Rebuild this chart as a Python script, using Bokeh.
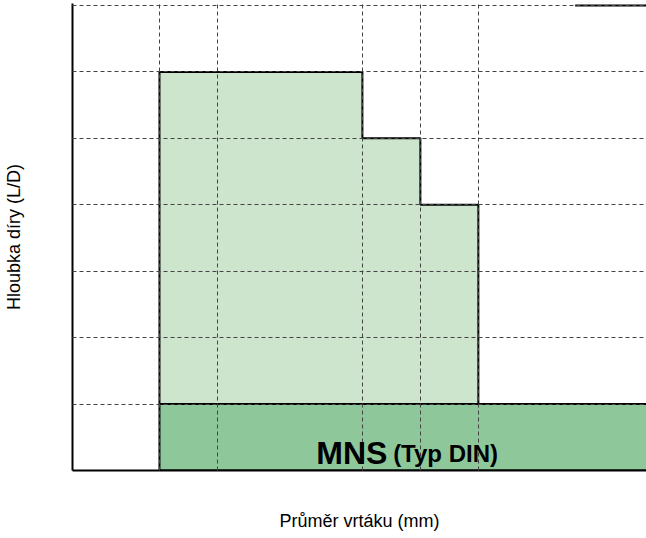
from bokeh.plotting import figure
from bokeh.models import FixedTicker, Range1d
from bokeh.embed import file_html
from bokeh.resources import INLINE
from bokeh.core.properties import value

# ---- data ----
x_grid = [1.5, 2.5, 5, 6, 7]
y_grid = [1, 2, 3, 4, 5, 6, 7]
# stepped area (max depth by diameter)
step_x = [1.5, 1.5, 5, 5, 6, 6, 7, 7]
step_y = [1, 6, 6, 5, 5, 4, 4, 1]
# base band (MNS Typ DIN)
base_left = [1.5]
base_right = [10]
base_bottom = [0]
base_top = [1]
top_seg_x = [8.67, 10]
top_seg_y = [7, 7]
x_label = "Průměr vrtáku (mm)"
y_label = "Hloubka díry (L/D)"
main_text = ["MNS"]
sub_text = ["(Typ DIN)"]

FONT = "Liberation Sans"

p = figure(width=646, height=533, output_backend="svg", toolbar_location=None,
           x_range=Range1d(0, 9.9), y_range=Range1d(0, 7.03),
           min_border_left=72, min_border_bottom=60, min_border_top=3, min_border_right=0)
p.outline_line_color = None
p.background_fill_color = "white"
p.border_fill_color = "white"

for ax in (p.xaxis[0], p.yaxis[0]):
    ax.ticker = FixedTicker(ticks=[])
    ax.major_tick_line_color = None
    ax.minor_tick_line_color = None
    ax.axis_line_color = "black"
    ax.axis_line_width = 2
    ax.axis_label_text_font = FONT
    ax.axis_label_text_font_style = "normal"
    ax.axis_label_text_font_size = "18px"
    ax.axis_label_text_color = "black"

p.xaxis.axis_label = x_label
p.yaxis.axis_label = y_label
p.xaxis.axis_label_standoff = 40
p.yaxis.axis_label_standoff = 49

p.xgrid.ticker = FixedTicker(ticks=x_grid)
p.ygrid.ticker = FixedTicker(ticks=y_grid)
for g in (p.xgrid[0], p.ygrid[0]):
    g.grid_line_color = "#444444"
    g.grid_line_dash = "4 3"
    g.grid_line_width = 1
    g.level = "annotation"

r1 = p.patch(step_x, step_y, fill_color="#cde5cd", line_color="black", line_width=2)
r2 = p.quad(left=base_left, right=base_right, bottom=base_bottom, top=base_top,
            fill_color="#8ec89a", line_color="black", line_width=2)
r1.level = "underlay"
r2.level = "underlay"
r3 = p.line(top_seg_x, top_seg_y, line_color="black", line_width=2)

t1 = p.text(x=[5.43], y=[0.26], text=main_text, text_font=value(FONT), text_font_style="bold",
            text_font_size="32px", text_align="right", text_baseline="alphabetic", text_color="black")
t2 = p.text(x=[5.53], y=[0.26], text=sub_text, text_font=value(FONT), text_font_style="bold",
            text_font_size="24px", text_align="left", text_baseline="alphabetic", text_color="black")
t1.level = "overlay"
t2.level = "overlay"

open("out.html", "w").write(file_html(p, INLINE))
